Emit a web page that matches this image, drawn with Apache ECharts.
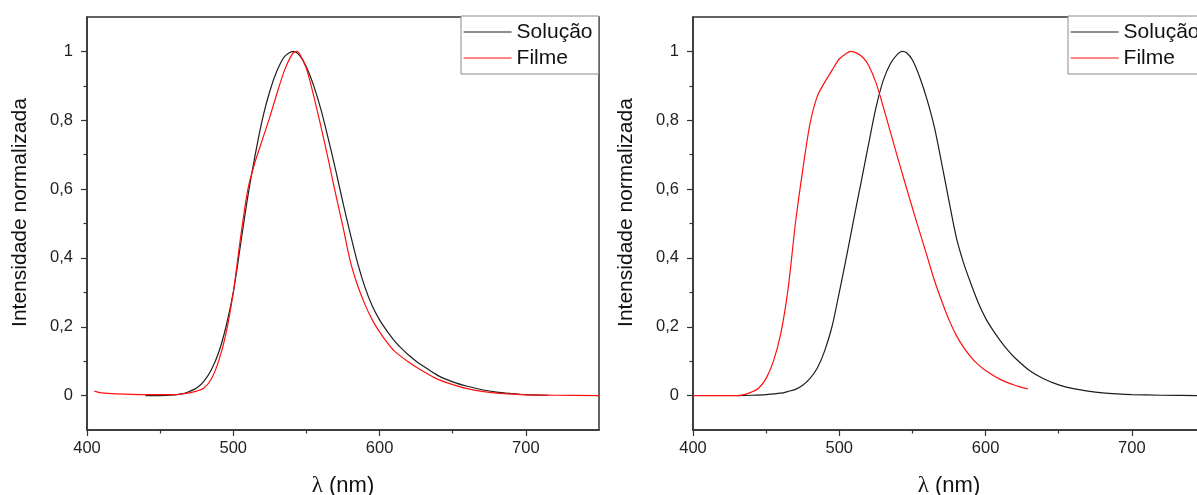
<!DOCTYPE html>
<html>
<head>
<meta charset="utf-8">
<script src="https://cdn.jsdelivr.net/npm/echarts@6/dist/echarts.min.js"></script>
<style>
html,body{margin:0;padding:0;background:#fff;}
#c{width:1197px;height:495px;}
</style>
</head>
<body>
<div id="c"></div>
<script>
// ---------- DATA ----------
const seriesNames = ['Solução', 'Filme'];
const xTickLabels = [400, 500, 600, 700];
const xMinorTicks = [450, 550, 650];
const yTickLabels = [0, 0.2, 0.4, 0.6, 0.8, 1];
const yMinorTicks = [0.1, 0.3, 0.5, 0.7, 0.9];

// Left panel – Solução (black)
const wlSolLeft = [440, 450, 460, 465, 470, 475, 480, 485, 490, 495, 500, 505, 510, 515, 520, 525, 530, 535, 541, 545, 550, 555, 560, 565, 570, 575, 580, 585, 590, 595, 600, 605, 610, 615, 620, 625, 630, 640, 650, 660, 670, 680, 690, 700, 715];
const valSolLeft = [0, 0, 0.002, 0.005, 0.012, 0.022, 0.042, 0.075, 0.125, 0.2, 0.3, 0.44, 0.58, 0.7, 0.805, 0.885, 0.945, 0.985, 1.0, 0.99, 0.955, 0.9, 0.83, 0.745, 0.655, 0.56, 0.47, 0.385, 0.315, 0.26, 0.22, 0.188, 0.16, 0.137, 0.117, 0.1, 0.085, 0.058, 0.04, 0.027, 0.017, 0.01, 0.006, 0.003, 0.001];
// Left panel – Filme (red)
const wlFilLeft = [405, 410, 420, 440, 460, 465, 470, 475, 480, 485, 490, 495, 500, 505, 510, 515, 520, 525, 530, 535, 540, 543, 545, 550, 555, 560, 565, 570, 575, 580, 585, 590, 595, 600, 605, 610, 620, 630, 640, 650, 660, 670, 680, 700, 720, 750];
const valFilLeft = [0.013, 0.008, 0.005, 0.003, 0.003, 0.005, 0.008, 0.013, 0.022, 0.048, 0.1, 0.18, 0.3, 0.46, 0.6, 0.68, 0.745, 0.81, 0.88, 0.945, 0.99, 1.0, 0.995, 0.95, 0.87, 0.78, 0.685, 0.585, 0.49, 0.39, 0.32, 0.265, 0.22, 0.185, 0.155, 0.13, 0.097, 0.07, 0.047, 0.032, 0.02, 0.012, 0.007, 0.002, 0.001, 0];

// Right panel – Solução (black)
const wlSolRight = [430, 440, 450, 460, 465, 470, 475, 480, 485, 490, 495, 500, 505, 510, 515, 520, 525, 530, 535, 540, 543, 546, 550, 555, 560, 565, 570, 575, 580, 585, 590, 595, 600, 605, 610, 615, 620, 630, 640, 650, 660, 670, 680, 690, 700, 720, 750];
const valSolRight = [0, 0.001, 0.003, 0.007, 0.012, 0.018, 0.03, 0.05, 0.08, 0.13, 0.2, 0.3, 0.405, 0.515, 0.622, 0.73, 0.835, 0.915, 0.965, 0.993, 1.0, 0.996, 0.975, 0.925, 0.86, 0.78, 0.675, 0.565, 0.46, 0.385, 0.325, 0.27, 0.225, 0.19, 0.16, 0.133, 0.11, 0.073, 0.048, 0.031, 0.02, 0.013, 0.008, 0.005, 0.003, 0.001, 0];
// Right panel – Filme (red)
const wlFilRight = [400, 430, 435, 440, 445, 450, 455, 460, 465, 470, 475, 480, 485, 490, 495, 500, 505, 508, 512, 516, 520, 525, 530, 535, 540, 545, 550, 555, 560, 565, 570, 575, 580, 585, 590, 595, 600, 610, 620, 629];
const valFilRight = [0, 0, 0.003, 0.01, 0.022, 0.05, 0.1, 0.18, 0.31, 0.5, 0.655, 0.79, 0.87, 0.91, 0.945, 0.978, 0.995, 1.0, 0.995, 0.983, 0.96, 0.91, 0.84, 0.765, 0.69, 0.617, 0.545, 0.475, 0.405, 0.335, 0.275, 0.22, 0.175, 0.14, 0.112, 0.09, 0.073, 0.047, 0.03, 0.019];

// ---------- BUILD ----------
const pairs = (xs, ys) => xs.map((x, i) => [x, ys[i]]);
const FONT = 'Liberation Sans, Arial, sans-serif';
const AX = '#333';
const BLACK = '#1e1e1e';
const RED = '#ff1010';

function grid(left) {
  return { left: left, top: 17, width: 512, height: 413, show: true, borderColor: AX, borderWidth: 1.5,
    backgroundColor: 'transparent', containLabel: false, outerBoundsMode: 'none' };
}
function xMain(gi) {
  return {
    type: 'value', gridIndex: gi, min: 400, max: 750, interval: 50,
    name: '{l|λ} (nm)', nameLocation: 'middle', nameGap: 44,
    nameTextStyle: { fontFamily: FONT, fontSize: 22, color: '#111', rich: { l: { fontFamily: 'Liberation Serif, DejaVu Serif, serif', fontSize: 23, color: '#111' } } },
    axisLine: { show: true, onZero: false, lineStyle: { color: AX, width: 1.5 } },
    axisTick: { show: true, length: 6, customValues: xTickLabels, lineStyle: { color: AX, width: 1.2 } },
    axisLabel: { show: true, customValues: xTickLabels, margin: 10, fontFamily: FONT, fontSize: 16.5, color: '#222' },
    splitLine: { show: false }
  };
}
function xMinor(gi) {
  return {
    type: 'value', gridIndex: gi, min: 400, max: 750, interval: 50, position: 'bottom',
    axisLine: { show: false, onZero: false }, axisLabel: { show: false }, splitLine: { show: false },
    axisTick: { show: true, length: 3.5, customValues: xMinorTicks, lineStyle: { color: AX, width: 1.2 } }
  };
}
function yMain(gi) {
  return {
    type: 'value', gridIndex: gi, min: -0.1, max: 1.1, interval: 0.1, position: 'left',
    name: 'Intensidade normalizada', nameLocation: 'middle', nameGap: 56,
    nameTextStyle: { fontFamily: FONT, fontSize: 21, color: '#111', padding: [0, 0, 0, 22] },
    axisLine: { show: true, onZero: false, lineStyle: { color: AX, width: 1.5 } },
    axisTick: { show: true, length: 6, customValues: yTickLabels, lineStyle: { color: AX, width: 1.2 } },
    axisLabel: { show: true, customValues: yTickLabels, margin: 14, fontFamily: FONT, fontSize: 16.5, color: '#222',
      formatter: v => String(+v.toFixed(1)).replace('.', ',') },
    splitLine: { show: false }
  };
}
function yMinor(gi) {
  return {
    type: 'value', gridIndex: gi, min: -0.1, max: 1.1, interval: 0.1, position: 'left', offset: 0,
    axisLine: { show: false, onZero: false }, axisLabel: { show: false }, splitLine: { show: false },
    axisTick: { show: true, length: 3.5, customValues: yMinorTicks, lineStyle: { color: AX, width: 1.2 } }
  };
}
function legend(left) {
  return {
    orient: 'vertical', left: left, top: 16, data: seriesNames,
    backgroundColor: '#fff', borderColor: '#8a8a8a', borderWidth: 1, borderRadius: 0,
    padding: [4, 6, 4, 2], itemGap: 2, itemWidth: 48, itemHeight: 14,
    itemStyle: { opacity: 0 },
    lineStyle: { width: 1.2 },
    textStyle: { fontFamily: FONT, fontSize: 21, lineHeight: 24, color: '#111' },
    selectedMode: false
  };
}
function line(name, xi, yi, data, color) {
  return {
    name: name, type: 'line', xAxisIndex: xi, yAxisIndex: yi, data: data,
    showSymbol: false, symbol: 'none', smooth: 0.3,
    lineStyle: { color: color, width: 1.2 }, itemStyle: { color: color }, z: 3
  };
}

const chart = echarts.init(document.getElementById('c'), null, { renderer: 'canvas' });
chart.setOption({
  animation: false,
  backgroundColor: '#fff',
  grid: [grid(87), grid(693)],
  xAxis: [xMain(0), xMinor(0), xMain(1), xMinor(1)],
  yAxis: [yMain(0), yMinor(0), yMain(1), yMinor(1)],
  legend: [legend(461), legend(1068)],
  series: [
    line(seriesNames[0], 0, 0, pairs(wlSolLeft, valSolLeft), BLACK),
    line(seriesNames[1], 0, 0, pairs(wlFilLeft, valFilLeft), RED),
    line(seriesNames[0], 2, 2, pairs(wlSolRight, valSolRight), BLACK),
    line(seriesNames[1], 2, 2, pairs(wlFilRight, valFilRight), RED)
  ]
});
</script>
</body>
</html>
